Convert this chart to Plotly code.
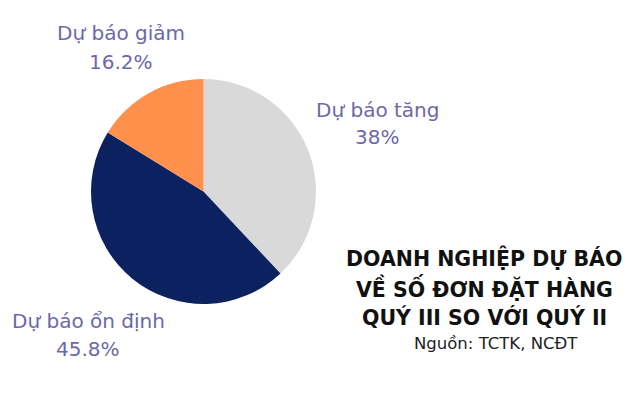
import plotly.graph_objects as go

labels = ["Dự báo tăng", "Dự báo ổn định", "Dự báo giảm"]
values = [38, 45.8, 16.2]
value_text = ["38%", "45.8%", "16.2%"]
colors = ["#d9d9d9", "#0c2260", "#ff914d"]

title_lines = ["DOANH NGHIỆP DỰ BÁO", "VỀ SỐ ĐƠN ĐẶT HÀNG", "QUÝ III SO VỚI QUÝ II"]
source = "Nguồn: TCTK, NCĐT"

W, H = 640, 395
FONT = "DejaVu Sans"
LABEL_COLOR = "#6c68ab"

fig = go.Figure()
fig.add_trace(go.Pie(
    labels=labels, values=values, sort=False, direction="clockwise", rotation=0,
    marker=dict(colors=colors, line=dict(width=0)),
    textinfo="none", hoverinfo="label+percent", showlegend=False,
    domain=dict(x=[91 / W, 316 / W], y=[1 - 304 / H, 1 - 79 / H]),
))

# (center x, y of name line, y of value line)
label_pos = [(377, 110, 137), (88, 321, 349), (121, 33, 62)]
ann = []
for lab, vt, (px, py1, py2) in zip(labels, value_text, label_pos):
    for txt, py in ((lab, py1), (vt, py2)):
        ann.append(dict(x=px / W, y=1 - py / H, xref="paper", yref="paper",
                        text=txt, showarrow=False, align="center",
                        font=dict(family=FONT, size=20, color=LABEL_COLOR),
                        xanchor="center", yanchor="middle"))

for t, py in zip(title_lines, [258, 288, 317]):
    ann.append(dict(x=484 / W, y=1 - py / H, xref="paper", yref="paper",
                    text=f"<b>{t}</b>", showarrow=False, align="center",
                    font=dict(family=FONT, size=20.5, color="#111111"),
                    xanchor="center", yanchor="middle"))
ann.append(dict(x=496 / W, y=1 - 343 / H, xref="paper", yref="paper",
                text=source, showarrow=False, align="center",
                font=dict(family=FONT, size=16.5, color="#222222"),
                xanchor="center", yanchor="middle"))

fig.update_layout(width=W, height=H, margin=dict(l=0, r=0, t=0, b=0),
                  paper_bgcolor="white", plot_bgcolor="white", annotations=ann)
fig.write_html("out.html")
